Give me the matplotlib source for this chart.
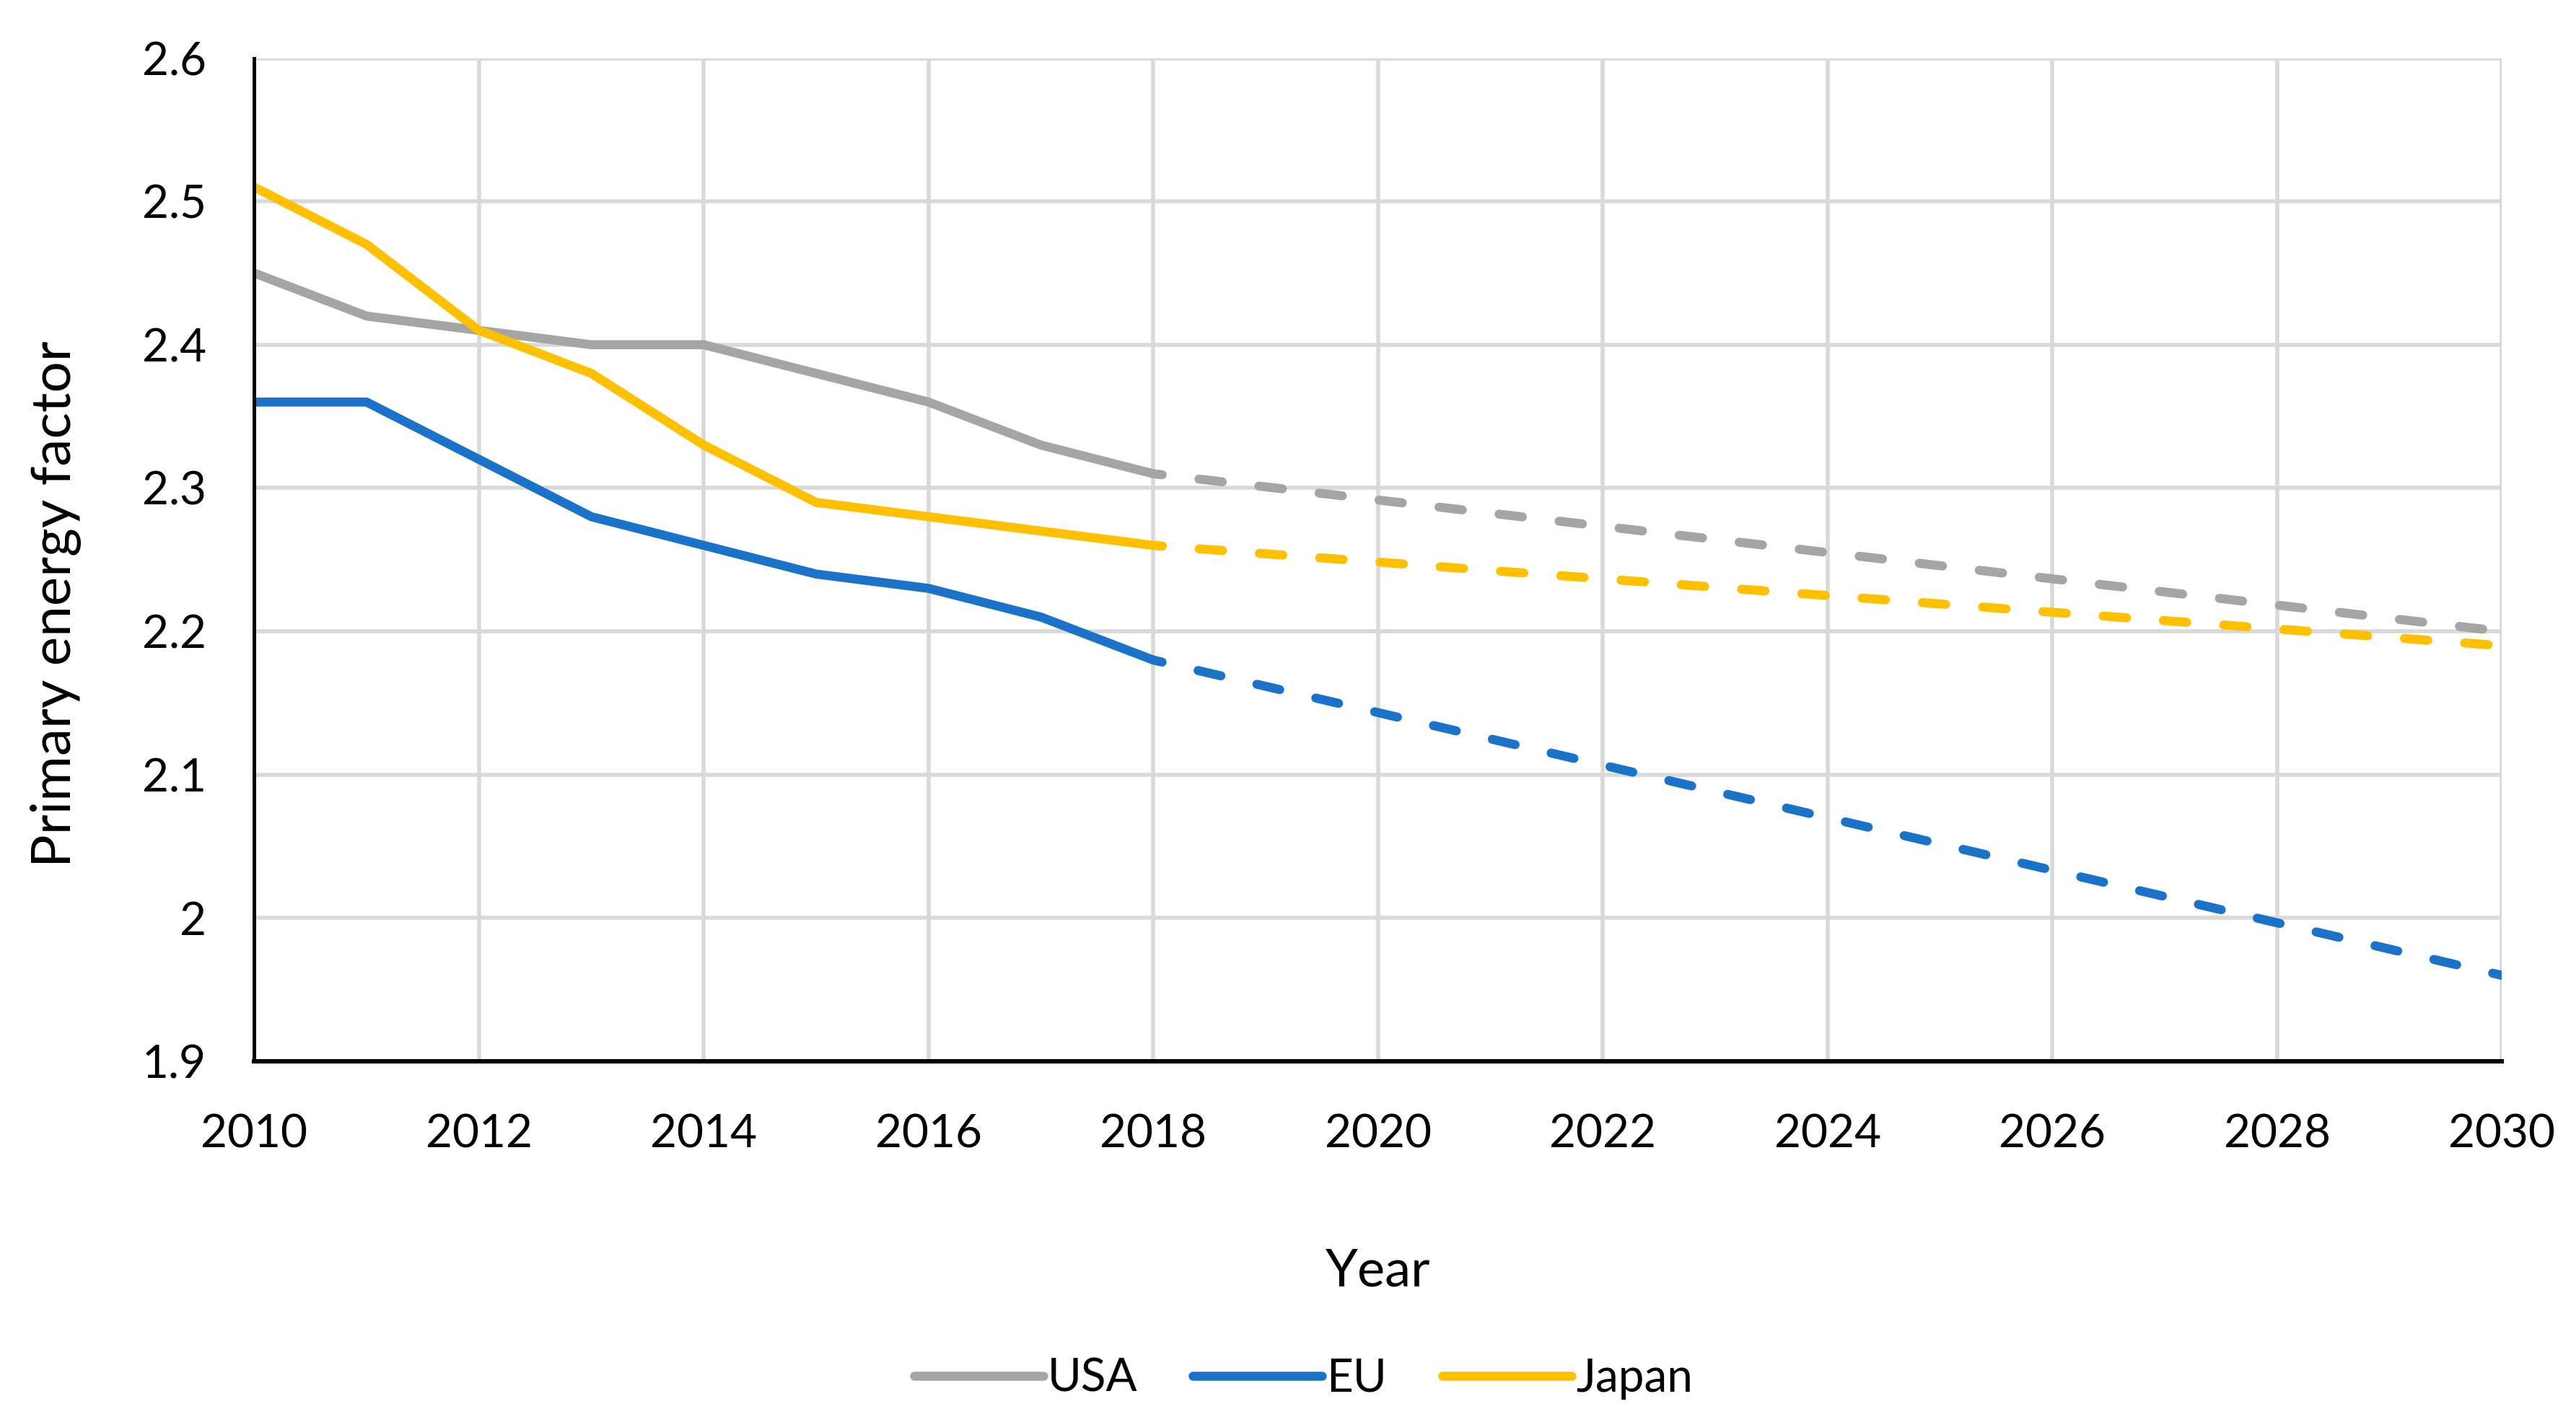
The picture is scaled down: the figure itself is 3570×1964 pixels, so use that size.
import matplotlib.pyplot as plt
import numpy as np

plt.rcParams['font.family'] = ['Lato', 'DejaVu Sans']

years = [2010, 2011, 2012, 2013, 2014, 2015, 2016, 2017, 2018]
usa = [2.45, 2.42, 2.41, 2.40, 2.40, 2.38, 2.36, 2.33, 2.31]
eu = [2.36, 2.36, 2.32, 2.28, 2.26, 2.24, 2.23, 2.21, 2.18]
japan = [2.51, 2.47, 2.41, 2.38, 2.33, 2.29, 2.28, 2.27, 2.26]

# projection from 2018 to 2030
proj_years = [2018, 2030]
usa_proj = [2.31, 2.20]
eu_proj = [2.18, 1.96]
japan_proj = [2.26, 2.19]

colors = {'USA': '#a5a5a5', 'EU': '#1a73c8', 'Japan': '#ffc000'}

fig = plt.figure(figsize=[17.85, 9.82], dpi=200)
ax = fig.add_axes([0.0987, 0.251, 0.8725, 0.708])

lw = 4.5
ax.plot(years, usa, color=colors['USA'], lw=lw, label='USA', solid_capstyle='round')
ax.plot(years, eu, color=colors['EU'], lw=lw, label='EU', solid_capstyle='round')
ax.plot(years, japan, color=colors['Japan'], lw=lw, label='Japan', solid_capstyle='round')
for yv, c in [(usa_proj, 'USA'), (eu_proj, 'EU'), (japan_proj, 'Japan')]:
    ax.plot(proj_years, yv, color=colors[c], lw=lw, linestyle=(1.6, (2.6, 4.1)),
            dash_capstyle='round')

ax.set_xlim(2010, 2030)
ax.set_ylim(1.9, 2.6)
ax.set_xticks(np.arange(2010, 2031, 2))
ax.set_yticks(np.round(np.arange(1.9, 2.61, 0.1), 1))
ax.set_yticklabels(['1.9', '2', '2.1', '2.2', '2.3', '2.4', '2.5', '2.6'])
ax.grid(True, color='#d9d9d9', lw=2.0)
ax.set_axisbelow(True)
ax.tick_params(length=0, labelsize=23)
ax.tick_params(axis='x', pad=26)
ax.tick_params(axis='y', pad=24)
for s in ['top', 'right']:
    ax.spines[s].set_visible(False)
ax.spines['left'].set_linewidth(1.8)
ax.spines['bottom'].set_linewidth(2.2)

ax.set_xlabel('Year', fontsize=26, labelpad=46)
ax.set_ylabel('Primary energy factor', fontsize=27.5)
ax.yaxis.set_label_coords(-0.0768, 0.456)

fig.legend(loc='center', bbox_to_anchor=(0.506, 0.027), ncol=3, frameon=False,
           fontsize=23, handlelength=2.8, handletextpad=0.1, columnspacing=1.2)

plt.savefig('out.png')
